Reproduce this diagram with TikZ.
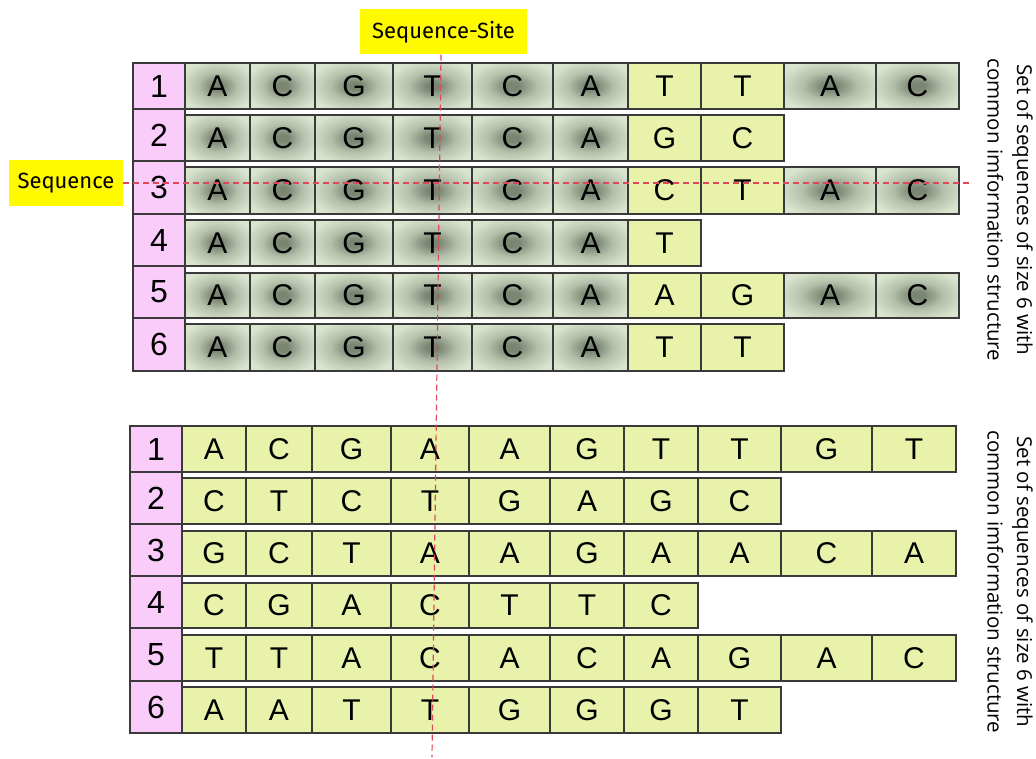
\documentclass[tikz,border=0pt]{standalone}
\usepackage{fontspec}
\setmainfont{Liberation Sans}
\newfontfamily\tagfont{Fira Sans}
\newfontfamily\notefont{Open Sans}

\definecolor{cellline}{HTML}{3A3A3A}
\definecolor{cellyellow}{HTML}{E9F2AA}
\definecolor{cellpink}{HTML}{FACCFA}
\definecolor{tagyellow}{HTML}{FFFA00}
\definecolor{guidered}{HTML}{E0475A}
\definecolor{glowdark}{HTML}{7A8572}
\definecolor{glowmid}{HTML}{B4BFAA}
\definecolor{glowlight}{HTML}{DAE5CF}

% dark core fading to a pale green edge
\pgfdeclareradialshading{cellglow}{\pgfpoint{0bp}{0bp}}{%
  color(0bp)=(glowdark); color(4bp)=(glowdark); color(15bp)=(glowmid);
  color(29bp)=(glowlight); color(50bp)=(glowlight)}

% one boxed cell: name, x-left, x-right, y-top, y-bottom, style, text
\newcommand\putcell[7]{%
  \node[#6, minimum width={(#3-#2)*1pt}, minimum height={(#5-#4)*1pt}]
    (#1) at ({(#2+#3)/2},{(#4+#5)/2}) {#7};}

\def\topcols{{185,250,315,393,472,553,628,701,784,876,959}}
\def\botcols{{182,246,312,391,469,550,624,698,781,872,956}}

\begin{document}
\begin{tikzpicture}[x=1pt,y=-1pt,
  cellbase/.style={draw=cellline, line width=1.3pt, inner sep=0pt,
    font=\fontsize{30}{30}\selectfont, text=black},
  graycell/.style={cellbase, shade, shading=cellglow},
  yelcell/.style={cellbase, fill=cellyellow},
  numcell/.style={cellbase, fill=cellpink, font=\fontsize{32}{32}\selectfont},
  tag/.style={fill=tagyellow, inner sep=0pt, font=\tagfont\fontsize{22}{22}\selectfont},
  note/.style={font=\notefont\fontsize{20.5}{29.5}\selectfont, align=center, rotate=-90},
  guide/.style={draw=guidered, dash pattern=on 6pt off 4pt, line width=1.2pt}]

\useasboundingbox[fill=white] (0,0) rectangle (1036,759);

% upper set: shared prefix ACGTCA in shaded cells
\foreach \r/\ya/\yb/\seq in {
  1/63/109/{A,C,G,T,C,A,T,T,A,C},
  2/115/161/{A,C,G,T,C,A,G,C},
  3/167/214/{A,C,G,T,C,A,C,T,A,C},
  4/220/266/{A,C,G,T,C,A,T},
  5/273/318/{A,C,G,T,C,A,A,G,A,C},
  6/324/371/{A,C,G,T,C,A,T,T}}{
  \foreach \l [count=\c] in \seq {
    \pgfmathsetmacro\xa{\topcols[\c-1]}
    \pgfmathsetmacro\xb{\topcols[\c]}
    \ifnum\c<7
      \putcell{t\r-\c}{\xa}{\xb}{\ya}{\yb}{graycell}{\l}
    \else\ifnum\c<9
      \putcell{t\r-\c}{\xa}{\xb}{\ya}{\yb}{yelcell}{\l}
    \else
      \putcell{t\r-\c}{\xa}{\xb}{\ya}{\yb}{graycell}{\l}
    \fi\fi
  }
}
\foreach \r/\ya/\yb in {1/63/109,2/109/161,3/161/214,4/214/266,5/266/318,6/318/371}
  \putcell{tn\r}{133}{185}{\ya}{\yb}{numcell}{\r};

% lower set: unrelated sequences
\foreach \r/\ya/\yb/\seq in {
  1/426/472/{A,C,G,A,A,G,T,T,G,T},
  2/478/524/{C,T,C,T,G,A,G,C},
  3/531/576/{G,C,T,A,A,G,A,A,C,A},
  4/583/628/{C,G,A,C,T,T,C},
  5/635/681/{T,T,A,C,A,C,A,G,A,C},
  6/687/733/{A,A,T,T,G,G,G,T}}{
  \foreach \l [count=\c] in \seq {
    \pgfmathsetmacro\xa{\botcols[\c-1]}
    \pgfmathsetmacro\xb{\botcols[\c]}
    \putcell{b\r-\c}{\xa}{\xb}{\ya}{\yb}{yelcell}{\l}
  }
}
\foreach \r/\ya/\yb in {1/426/472,2/472/524,3/524/576,4/576/628,5/628/681,6/681/733}
  \putcell{bn\r}{130}{182}{\ya}{\yb}{numcell}{\r};

% captions
\node[tag, minimum width=167pt, minimum height=45pt] (site) at (443.5,32) {Sequence-Site};
\node[tag, minimum width=114pt, minimum height=46pt] (seq) at (66,183) {Sequence};
\node[note] (notetop) at (1010,210) {Set of sequences of size 6 with\\common imformation structure};
\node[note] (notebot) at (1010,582) {Set of sequences of size 6 with\\common imformation structure};

% dashed guides through one site and one sequence
\coordinate (vend) at (432,757);
\coordinate (hend) at (970,183);
\draw[guide] ([xshift=-2.5pt]site.south) -- (vend);
\draw[guide] (seq.east) -- (hend);
\end{tikzpicture}
\end{document}
